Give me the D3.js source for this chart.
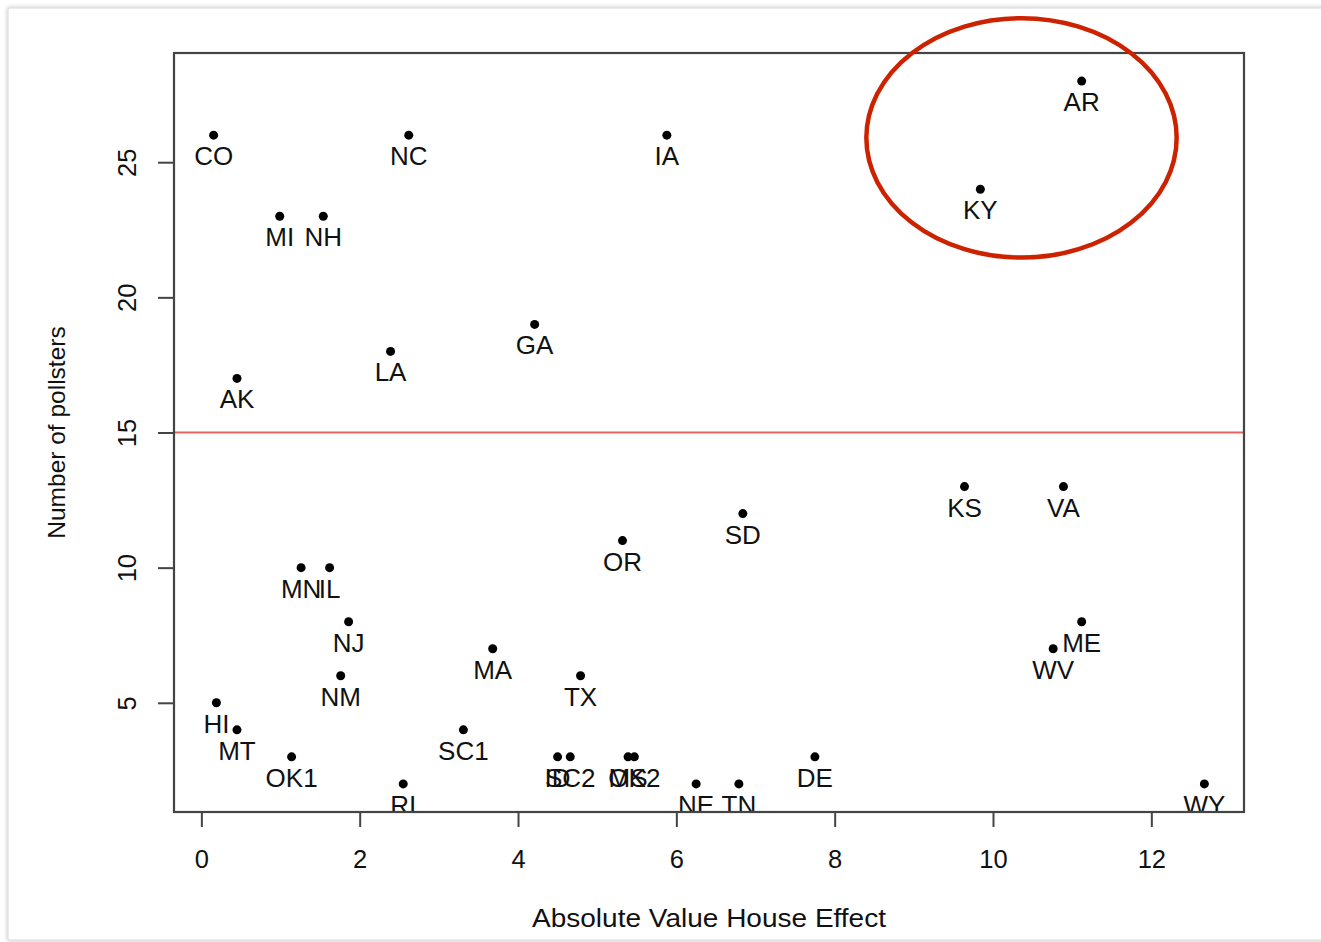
<!DOCTYPE html>
<html>
<head>
<meta charset="utf-8">
<script src="https://cdn.jsdelivr.net/npm/d3@7"></script>
<style>
  body { margin: 0; background: #fff; }
  text { font-family: "Liberation Sans", Arial, Helvetica, sans-serif; fill: #111; }
</style>
</head>
<body>
<div class="chart"></div>
<script>
// values
var states = ["CO", "NC", "IA", "AR", "KY", "MI", "NH", "GA", "LA", "AK",
  "KS", "VA", "SD", "OR", "MN", "IL", "NJ", "ME", "MA", "WV",
  "NM", "TX", "HI", "MT", "SC1", "OK1", "ID", "SC2", "MS", "OK2",
  "RI", "NE", "TN", "DE", "WY"];
var houseEffect = [0.155, 2.62, 5.88, 11.12, 9.84, 0.99, 1.54, 4.21, 2.39, 0.45,
  9.64, 10.89, 6.84, 5.32, 1.26, 1.62, 1.86, 11.12, 3.68, 10.76,
  1.76, 4.79, 0.19, 0.45, 3.31, 1.14, 4.50, 4.66, 5.39, 5.47,
  2.55, 6.25, 6.79, 7.75, 12.67];
var pollsters = [26, 26, 26, 28, 24, 23, 23, 19, 18, 17,
  13, 13, 12, 11, 10, 10, 8, 8, 7, 7,
  6, 6, 5, 4, 4, 3, 3, 3, 3, 3,
  2, 2, 2, 3, 2];
var xTicks = [0, 2, 4, 6, 8, 10, 12];
var yTicks = [5, 10, 15, 20, 25];
var threshold = 15;
// red circle drawn around AR / KY (data units)
var highlight = [10.36, 25.9, 1.96, 4.43];

var svgWidth = 1321;
var svgHeight = 942;
var box = { left: 174, right: 1244, top: 53, bottom: 812 };

var svg = d3.select(".chart")
  .append("svg")
  .attr("width", svgWidth)
  .attr("height", svgHeight);

var defs = svg.append("defs");
defs.append("filter")
  .attr("id", "shadow")
  .attr("x", "-5%").attr("y", "-5%")
  .attr("width", "110%").attr("height", "110%")
  .append("feDropShadow")
  .attr("dx", 0).attr("dy", 0)
  .attr("stdDeviation", 2)
  .attr("flood-color", "#000")
  .attr("flood-opacity", 0.25);
defs.append("clipPath")
  .attr("id", "plotclip")
  .append("rect")
  .attr("x", box.left).attr("y", box.top)
  .attr("width", box.right - box.left)
  .attr("height", box.bottom - box.top);

// the card behind the plot
svg.append("rect")
  .attr("x", 8).attr("y", 8)
  .attr("width", 1400).attr("height", 932)
  .attr("fill", "#fff")
  .attr("stroke", "#d8d8d8")
  .attr("filter", "url(#shadow)");

var data = states.map(function(s, i) {
  return { abbr: s, effect: houseEffect[i], n: pollsters[i] };
});

// R style range: extend data range by 4% each side
var xExt = d3.extent(houseEffect);
var yExt = d3.extent(pollsters);
var xPad = (xExt[1] - xExt[0]) * 0.04;
var yPad = (yExt[1] - yExt[0]) * 0.04;

var xScale = d3.scaleLinear()
  .domain([xExt[0] - xPad, xExt[1] + xPad])
  .range([box.left, box.right]);

var yScale = d3.scaleLinear()
  .domain([yExt[0] - yPad, yExt[1] + yPad])
  .range([box.bottom, box.top]);

var bottomAxis = d3.axisBottom(xScale)
  .tickValues(xTicks)
  .tickSize(15)
  .tickSizeOuter(0)
  .tickFormat(d3.format("d"));
var leftAxis = d3.axisLeft(yScale)
  .tickValues(yTicks)
  .tickSize(16)
  .tickSizeOuter(0)
  .tickFormat(d3.format("d"));

var xAxisG = svg.append("g")
  .attr("transform", `translate(0, ${box.bottom})`)
  .call(bottomAxis);
xAxisG.select(".domain").remove();
xAxisG.selectAll("line").attr("stroke", "#444").attr("stroke-width", 2);
xAxisG.selectAll("text")
  .attr("y", 56)
  .attr("dy", 0)
  .style("font-size", "25.5px")
  .style("font-family", "Liberation Sans, Arial, sans-serif")
  .attr("fill", "#222");

var yAxisG = svg.append("g")
  .attr("transform", `translate(${box.left}, 0)`)
  .call(leftAxis);
yAxisG.select(".domain").remove();
yAxisG.selectAll("line").attr("stroke", "#444").attr("stroke-width", 2);
yAxisG.selectAll("text")
  .attr("transform", "rotate(-90)")
  .attr("x", 0)
  .attr("y", -38)
  .attr("dy", 0)
  .attr("text-anchor", "middle")
  .style("font-size", "25.5px")
  .style("font-family", "Liberation Sans, Arial, sans-serif")
  .attr("fill", "#222");

// reference line at 15 pollsters
svg.append("line")
  .attr("x1", box.left).attr("x2", box.right)
  .attr("y1", yScale(threshold)).attr("y2", yScale(threshold))
  .attr("stroke", "#e06464")
  .attr("stroke-width", 1.8);

var plotGroup = svg.append("g")
  .attr("clip-path", "url(#plotclip)");

plotGroup.selectAll("circle")
  .data(data)
  .enter()
  .append("circle")
  .attr("cx", d => xScale(d.effect))
  .attr("cy", d => yScale(d.n))
  .attr("r", 4.5)
  .attr("fill", "#000");

plotGroup.selectAll(".lbl")
  .data(data)
  .enter()
  .append("text")
  .attr("class", "lbl")
  .attr("x", d => xScale(d.effect))
  .attr("y", d => yScale(d.n) + 30)
  .attr("text-anchor", "middle")
  .style("font-size", "26px")
  .text(d => d.abbr);

// plot box
svg.append("rect")
  .attr("x", box.left).attr("y", box.top)
  .attr("width", box.right - box.left)
  .attr("height", box.bottom - box.top)
  .attr("fill", "none")
  .attr("stroke", "#444")
  .attr("stroke-width", 2.2);

// axis titles
svg.append("text")
  .attr("x", (box.left + box.right) / 2)
  .attr("y", 927)
  .attr("text-anchor", "middle")
  .attr("textLength", 354)
  .attr("lengthAdjust", "spacingAndGlyphs")
  .style("font-size", "25px")
  .attr("fill", "#222")
  .text("Absolute Value House Effect");

svg.append("text")
  .attr("transform", "rotate(-90)")
  .attr("x", -(box.top + box.bottom) / 2)
  .attr("y", 65)
  .attr("text-anchor", "middle")
  .style("font-size", "24.5px")
  .attr("fill", "#222")
  .text("Number of pollsters");

// annotation ellipse
svg.append("ellipse")
  .attr("cx", xScale(highlight[0]))
  .attr("cy", yScale(highlight[1]))
  .attr("rx", xScale(highlight[0] + highlight[2]) - xScale(highlight[0]))
  .attr("ry", yScale(highlight[1] - highlight[3]) - yScale(highlight[1]))
  .attr("fill", "none")
  .attr("stroke", "#cc2200")
  .attr("stroke-width", 4.5);
</script>
</body>
</html>
